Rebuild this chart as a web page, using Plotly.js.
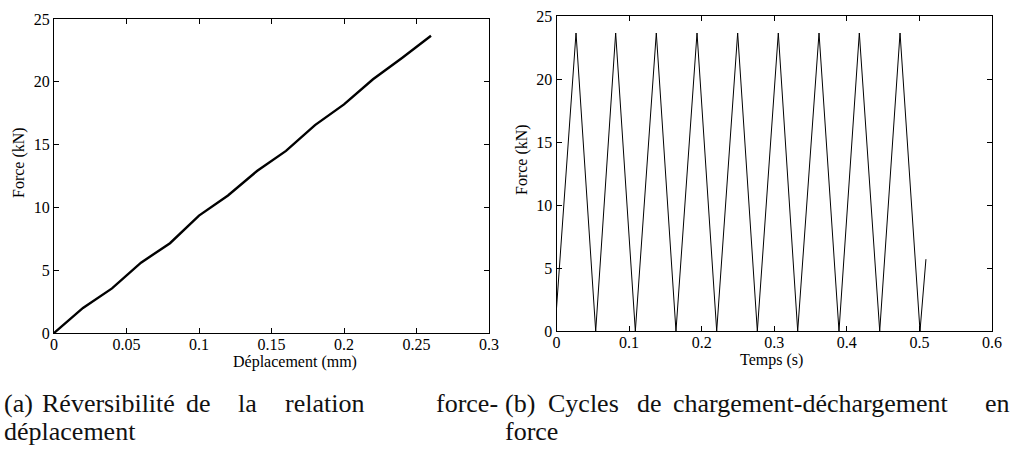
<!DOCTYPE html>
<html>
<head>
<meta charset="utf-8">
<script src="https://cdn.plot.ly/plotly-3.0.1.min.js"></script>
<style>html,body{margin:0;padding:0;background:#fff;}#chart{width:1012px;height:450px;}</style>
</head>
<body>
<div id="chart"></div>
<script>
// (a) force vs displacement
const dispMm = [0, 0.02, 0.04, 0.06, 0.08, 0.10, 0.12, 0.14, 0.16, 0.18, 0.20, 0.22, 0.24, 0.26];
const forceA = [0, 2.0, 3.55, 5.6, 7.15, 9.35, 10.95, 12.9, 14.5, 16.55, 18.2, 20.2, 21.9, 23.67];

// (b) force vs time, load/unload cycles
const timeS = [0, 0.0269, 0.054, 0.0815, 0.1086, 0.1375, 0.1646, 0.1936, 0.2207, 0.2496, 0.2767,
               0.3056, 0.3323, 0.3617, 0.3892, 0.4172, 0.4453, 0.4733, 0.5008, 0.509];
const forceB = [1.8, 23.65, 0, 23.65, 0, 23.65, 0, 23.65, 0, 23.65, 0,
                23.65, 0, 23.65, 0, 23.65, 0, 23.65, 0, 5.7];

const xTicksA = [0, 0.05, 0.1, 0.15, 0.2, 0.25, 0.3];
const xTickTextA = ['0', '0.05', '0.1', '0.15', '0.2', '0.25', '0.3'];
const xTicksB = [0, 0.1, 0.2, 0.3, 0.4, 0.5, 0.6];
const xTickTextB = ['0', '0.1', '0.2', '0.3', '0.4', '0.5', '0.6'];
const yTicks = [0, 5, 10, 15, 20, 25];

// caption words (line 1 is justified in the reference)
const capA1 = ['(a)', 'Réversibilité', 'de', 'la', 'relation', 'force-'];
const capA2 = ['déplacement'];
const capB1 = ['(b)', 'Cycles', 'de', 'chargement-déchargement', 'en'];
const capB2 = ['force'];

const W = 1012, H = 450;
const serif = '"Liberation Serif", "Times New Roman", Times, serif';

const axisBase = {
  showgrid: false, zeroline: false, showline: true, linecolor: '#000', linewidth: 1,
  mirror: 'ticks', ticks: 'inside', ticklen: 5, tickwidth: 1, tickcolor: '#000',
  tickfont: {family: serif, size: 16, color: '#000'}, automargin: false, fixedrange: true
};

const traces = [
  {x: dispMm, y: forceA, type: 'scatter', mode: 'lines', line: {color: '#000', width: 2.4},
   xaxis: 'x', yaxis: 'y', hoverinfo: 'skip', showlegend: false},
  {x: timeS, y: forceB, type: 'scatter', mode: 'lines', line: {color: '#000', width: 1},
   xaxis: 'x2', yaxis: 'y2', hoverinfo: 'skip', showlegend: false}
];

function px(x) { return x / W; }
function py(y) { return 1 - y / H; }

const ann = [];
function txt(text, x, y, opts) {
  ann.push(Object.assign({text: text, x: px(x), y: py(y), xref: 'paper', yref: 'paper',
    showarrow: false, xanchor: 'left', yanchor: 'middle',
    font: {family: serif, size: 26, color: '#111'}}, opts || {}));
}
// axis titles
const titleFont = {family: serif, size: 16, color: '#000'};
txt('Déplacement (mm)', 295, 362, {xanchor: 'center', font: titleFont});
txt('Temps (s)', 771, 360, {xanchor: 'center', font: titleFont});
txt('Force (kN)', 19, 163, {xanchor: 'center', textangle: -90, font: titleFont});
txt('Force (kN)', 522, 160, {xanchor: 'center', textangle: -90, font: titleFont});

// caption word positions (left edges, px)
const capA1x = [2, 40, 184, 236, 283, 434];
const capB1x = [503, 546, 635, 671, 983];
capA1.forEach((w, i) => txt(w, capA1x[i], 403));
txt(capA2[0], 2, 431);
capB1.forEach((w, i) => txt(w, capB1x[i], 403));
txt(capB2[0], 503, 431);

const layout = {
  width: W, height: H, margin: {l: 0, r: 0, t: 0, b: 0},
  paper_bgcolor: '#fff', plot_bgcolor: '#fff', showlegend: false,
  font: {family: serif, color: '#000'},
  xaxis: Object.assign({}, axisBase, {domain: [px(54), px(489)], range: [0, 0.3],
    tickvals: xTicksA, ticktext: xTickTextA, anchor: 'y', ticklabelstandoff: -3}),
  yaxis: Object.assign({}, axisBase, {domain: [py(333), py(19)], range: [0, 25],
    tickvals: yTicks, anchor: 'x'}),
  xaxis2: Object.assign({}, axisBase, {domain: [px(556.5), px(992)], range: [0, 0.6],
    tickvals: xTicksB, ticktext: xTickTextB, anchor: 'y2', ticklabelstandoff: -3}),
  yaxis2: Object.assign({}, axisBase, {domain: [py(331), py(16)], range: [0, 25],
    tickvals: yTicks, anchor: 'x2'}),
  annotations: ann
};

Plotly.newPlot('chart', traces, layout, {staticPlot: true, displayModeBar: false});
</script>
</body>
</html>
